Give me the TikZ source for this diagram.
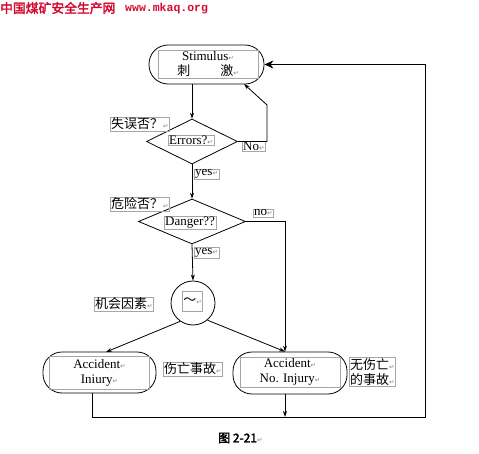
\documentclass[tikz,border=0pt]{standalone}
\usepackage{fontspec}
\setmainfont{Liberation Serif}
\newfontfamily\cjk{Noto Sans CJK SC}
\newfontfamily\cjkb[FakeBold=2.5]{Noto Sans CJK SC}
\newfontfamily\dejavu{DejaVu Sans}
\newfontfamily\monof{Liberation Mono}
\usetikzlibrary{shapes.geometric,arrows.meta}
\newcommand{\rt}{{\dejavu\fontsize{6.5}{6.5}\selectfont\textcolor{gray}{↵}}}
\definecolor{hdr}{RGB}{215,10,45}
\begin{document}
\begin{tikzpicture}[x=1pt,y=-1pt,
  rbox/.style={draw, line width=0.8pt, rounded corners=19pt},
  inbox/.style={draw=gray!70, line width=0.4pt, inner sep=0pt, align=center, font=\fontsize{13}{15}\selectfont},
  lbl/.style={draw=gray!70, line width=0.4pt, inner xsep=1pt, inner ysep=0.8pt, anchor=west, align=left, font=\fontsize{13}{15}\selectfont},
  dia/.style={diamond, draw, line width=0.8pt, inner sep=0pt},
  ln/.style={line width=0.8pt},
  flow/.style={line width=0.8pt, -{Stealth[length=6pt,width=4pt]}},
  bigflow/.style={line width=0.8pt, -{Stealth[length=9pt,width=8pt]}}]
\useasboundingbox[fill=white] (0,0) rectangle (479,454);
% header
\node[anchor=west, inner sep=0pt, text=hdr, font=\cjkb\fontsize{12.8}{14}\selectfont] (h1) at (0,8) {中国煤矿安全生产网};
\node[anchor=west, inner sep=0pt, text=hdr, font=\monof\bfseries\fontsize{11.5}{13}\selectfont] (h2) at (125,8.5) {www.mkaq.org};
% stimulus
\node[rbox, minimum width=115pt, minimum height=39pt] (stim) at (206.5,64.5) {};
\node[inbox, minimum width=100pt, minimum height=28pt] (stimt) at (208,64.5) {Stimulus\rt\\{\cjk 刺}\hspace{30pt}{\cjk 激}\rt};
% errors diamond
\node[dia, minimum width=91pt, minimum height=45pt] (err) at (192,141.5) {};
\node[lbl] (errt) at (168,140.5) {Errors?\rt};
\node[lbl, font=\cjk\fontsize{13}{15}\selectfont] (errq) at (110,124) {失误否？\rt};
\node[lbl] (no) at (242,146.5) {No\rt};
\node[lbl] (yes1) at (194,174) {yes\rt};
% danger diamond
\node[dia, minimum width=107pt, minimum height=45pt] (dan) at (192,221.5) {};
\node[lbl] (dant) at (164,222.5) {Danger??};
\node[lbl, font=\cjk\fontsize{13}{15}\selectfont] (danq) at (110,204) {危险否？\rt};
\node[lbl] (dno) at (253,213) {no\rt};
\node[lbl] (yes2) at (194,252.5) {yes\rt};
% chance circle
\node[circle, draw, line width=0.8pt, minimum size=44pt, inner sep=0pt] (ch) at (193,303) {};
\node[draw=gray!70, line width=0.4pt, minimum size=20pt, inner sep=0pt, font=\cjk\fontsize{13}{15}\selectfont] (tl) at (192.5,301.5) {～\rt};
\node[lbl, font=\cjk\fontsize{13}{15}\selectfont] (chq) at (94,304) {机会因素\rt};
% accidents
\node[rbox, minimum width=113pt, minimum height=41pt] (inj) at (99.5,372.5) {};
\node[inbox, minimum width=100pt, minimum height=33pt] (injt) at (99.5,372.5) {Accident\rt\\Iniury\rt};
\node[lbl, font=\cjk\fontsize{13}{15}\selectfont] (injq) at (163,369) {伤亡事故\rt};
\node[rbox, minimum width=114pt, minimum height=42pt] (noinj) at (290,373) {};
\node[inbox, minimum width=100pt, minimum height=30pt] (noinjt) at (290,372) {Accident\rt\\No. Injury\rt};
\node[lbl, font=\cjk\fontsize{13}{15}\selectfont] (noinjq) at (349,372) {无伤亡\rt\\的事故\rt};
% caption
\node[anchor=west, inner sep=0pt, font=\cjkb\fontsize{12}{14}\selectfont] (cap) at (218,438) {图 2-21\rt};
% connectors
\coordinate (no1) at (267,141.5);
\coordinate (no2) at (267,105);
\coordinate (stimNo) at (244,84);
\coordinate (dn) at (285,221.5);
\coordinate (injin) at (106,352);
\coordinate (b1) at (92,417);
\coordinate (b2) at (425,417);
\coordinate (b3) at (425,64.5);
\draw[flow] (err.north |- stim.south) -- (err.north);
\draw[flow] (err.east) -- (no1) -- (no2) -- (stimNo);
\draw[flow] (err.south) -- (dan.north);
\draw[flow] (dan.east) -- (dn) -- (dn |- noinj.north);
\draw[flow] (dan.south) -- (ch.north);
\draw[flow] (ch.235) -- (injin);
\draw[flow] (ch.-50) -- (dn |- noinj.north);
\draw[ln] (inj.south -| b1) -- (b1) -- (b2) -- (b3);
\draw[bigflow] (b3) -- (stim.east);
\draw[flow] (noinj.south -| dn) -- (dn |- b1);
\end{tikzpicture}
\end{document}
